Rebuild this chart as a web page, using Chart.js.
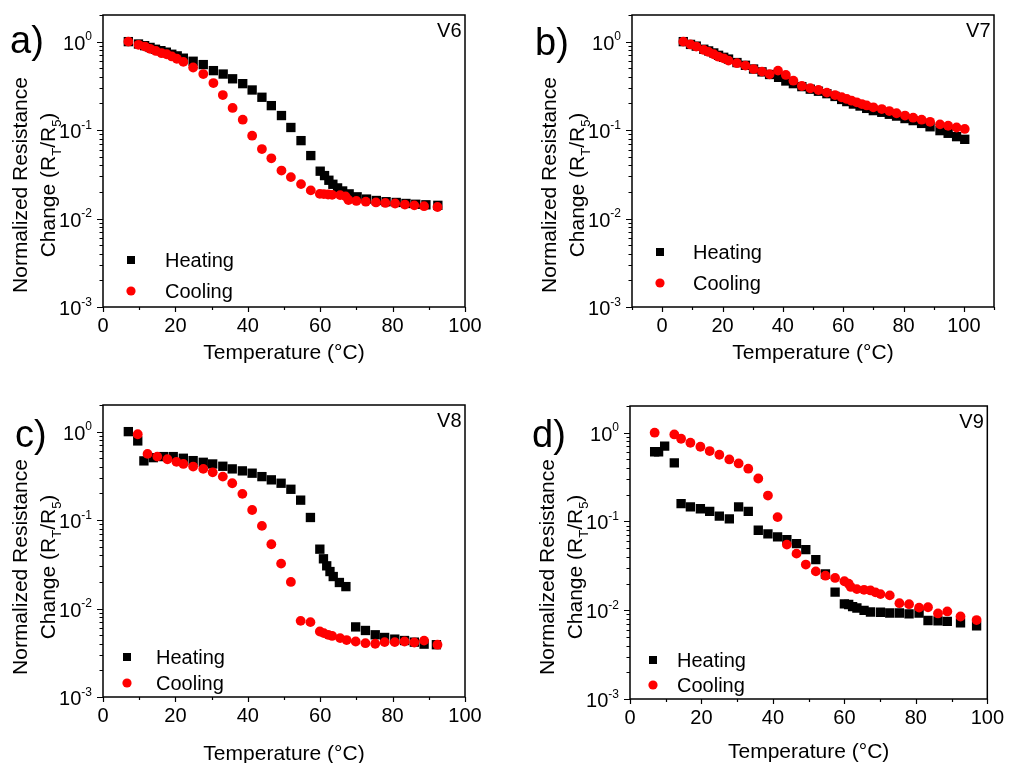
<!DOCTYPE html>
<html>
<head>
<meta charset="utf-8">
<script src="https://cdn.jsdelivr.net/npm/chart.js@4.4.0/dist/chart.umd.min.js"></script>
<style>
  body { margin: 0; background: #fff; }
  canvas { position: absolute; }
</style>
</head>
<body>
<canvas id="chartA" width="505" height="380" style="left:0;top:0"></canvas>
<canvas id="chartB" width="506" height="380" style="left:505px;top:0"></canvas>
<canvas id="chartC" width="505" height="383" style="left:0;top:380px"></canvas>
<canvas id="chartD" width="506" height="383" style="left:505px;top:380px"></canvas>
<script>
// V6
const v6HeatingTemp = [7, 9.8, 11.5, 13, 14.5, 16, 17.5, 19, 20.5, 22.2, 24.9, 27.7, 30.5, 33.2, 35.8, 38.6, 41.2, 43.9, 46.5, 49.3, 51.9, 54.7, 57.4, 60, 61.2, 62.4, 63.5, 64.8, 66.2, 68, 70.2, 72.8, 75.5, 78.2, 81, 83.7, 86.4, 89.2, 92.5];
const v6HeatingRes = [1.0, 0.94, 0.90, 0.86, 0.82, 0.79, 0.76, 0.72, 0.69, 0.65, 0.60, 0.55, 0.47, 0.43, 0.38, 0.335, 0.284, 0.235, 0.189, 0.146, 0.107, 0.076, 0.0515, 0.0343, 0.0306, 0.0271, 0.0244, 0.0222, 0.0205, 0.019, 0.0176, 0.0166, 0.016, 0.0155, 0.0152, 0.0148, 0.0145, 0.0143, 0.0141];
const v6CoolingTemp = [7, 9.8, 11.6, 13, 14.6, 16.2, 17.6, 19, 20.4, 22.2, 24.9, 27.7, 30.5, 33.1, 35.8, 38.6, 41.2, 43.9, 46.5, 49.3, 51.9, 54.7, 57.4, 59.9, 61, 62.2, 63.3, 65.5, 67, 67.8, 70, 72.6, 75.4, 78, 80.7, 83.4, 86, 88.7, 92.4];
const v6CoolingRes = [1.0, 0.92, 0.88, 0.83, 0.785, 0.74, 0.72, 0.68, 0.64, 0.59, 0.51, 0.43, 0.34, 0.249, 0.178, 0.131, 0.0864, 0.061, 0.048, 0.0349, 0.0294, 0.0245, 0.0208, 0.019, 0.0189, 0.0187, 0.0185, 0.0184, 0.0178, 0.0162, 0.0158, 0.0155, 0.0152, 0.015, 0.0148, 0.0144, 0.0141, 0.0138, 0.0135];

// V7
const v7HeatingTemp = [7, 9.4, 11.3, 13.8, 15.4, 17.1, 18.7, 20.4, 22, 24.8, 27.6, 30.3, 33.1, 35.6, 38.6, 41, 43.5, 46.3, 49.1, 51.8, 54.6, 57.3, 59.5, 61.2, 63.4, 65.6, 67.8, 70, 72.8, 75.3, 77.7, 80.5, 83.2, 86, 88.8, 92.1, 94.8, 97.6, 100.3];
const v7HeatingRes = [1.0, 0.93, 0.89, 0.82, 0.785, 0.745, 0.70, 0.665, 0.635, 0.58, 0.54, 0.49, 0.455, 0.425, 0.395, 0.359, 0.335, 0.31, 0.29, 0.275, 0.258, 0.24, 0.222, 0.21, 0.197, 0.187, 0.176, 0.166, 0.159, 0.151, 0.144, 0.135, 0.128, 0.119, 0.109, 0.0986, 0.092, 0.0843, 0.0786];
const v7CoolingTemp = [7, 9.4, 11.3, 13.8, 15.4, 17.1, 18.7, 20.4, 22, 24.8, 27.6, 30.3, 33.1, 35.6, 38.4, 41, 43.5, 46.3, 49.1, 51.8, 54.6, 57.3, 59.5, 61.2, 62.8, 64.5, 66.2, 67.8, 70, 72.8, 75.3, 77.7, 80.5, 83.2, 86, 88.8, 92.1, 94.8, 97.6, 100.3];
const v7CoolingRes = [1.0, 0.93, 0.88, 0.805, 0.764, 0.72, 0.676, 0.648, 0.61, 0.57, 0.535, 0.49, 0.458, 0.428, 0.47, 0.42, 0.362, 0.315, 0.297, 0.284, 0.265, 0.249, 0.235, 0.225, 0.215, 0.206, 0.197, 0.19, 0.181, 0.173, 0.164, 0.155, 0.146, 0.138, 0.131, 0.124, 0.116, 0.112, 0.107, 0.103];

// V8
const v8HeatingTemp = [7, 9.6, 11.3, 13.9, 16.7, 19.4, 22.2, 24.9, 27.7, 30.3, 33.1, 35.7, 38.5, 41.2, 43.9, 46.5, 49.2, 51.9, 54.6, 57.3, 59.9, 60.9, 61.8, 62.7, 63.6, 65.3, 67.1, 69.8, 72.5, 75.2, 77.8, 80.6, 83.3, 86, 88.7, 92.1];
const v8HeatingRes = [1.0, 0.785, 0.467, 0.508, 0.522, 0.522, 0.50, 0.47, 0.45, 0.431, 0.406, 0.379, 0.36, 0.339, 0.31, 0.285, 0.261, 0.223, 0.168, 0.107, 0.0469, 0.0365, 0.0304, 0.0262, 0.023, 0.0197, 0.0177, 0.0062, 0.00565, 0.00505, 0.00471, 0.00451, 0.00435, 0.00417, 0.00396, 0.0039];
const v8CoolingTemp = [9.6, 12.3, 15, 17.8, 20.3, 22.2, 24.9, 27.7, 30.3, 33.1, 35.7, 38.5, 41.2, 43.9, 46.5, 49.2, 51.9, 54.6, 57.3, 59.9, 61, 62.2, 63.3, 65.5, 67.3, 69.8, 72.5, 75.2, 77.8, 80.6, 83.3, 86, 88.7, 92.4];
const v8CoolingRes = [0.934, 0.56, 0.522, 0.487, 0.455, 0.431, 0.403, 0.379, 0.347, 0.31, 0.261, 0.198, 0.13, 0.086, 0.0533, 0.0322, 0.02, 0.00726, 0.00702, 0.0055, 0.00527, 0.00505, 0.0049, 0.00463, 0.0044, 0.00424, 0.00406, 0.004, 0.00417, 0.00417, 0.00424, 0.00413, 0.00434, 0.0039];

// V9
const v9HeatingTemp = [6.9, 8, 9.7, 12.4, 14.3, 16.9, 19.7, 22.3, 25, 27.8, 30.4, 33.1, 35.9, 38.6, 41.3, 43.9, 46.6, 49.2, 52, 54.7, 57.4, 60, 61.2, 62.3, 63.5, 65.5, 67.3, 70.1, 72.7, 75.4, 78.1, 80.9, 83.4, 86.2, 88.8, 92.5, 97];
const v9HeatingRes = [0.61, 0.61, 0.706, 0.458, 0.159, 0.146, 0.139, 0.13, 0.115, 0.107, 0.146, 0.13, 0.0796, 0.0725, 0.067, 0.0625, 0.0563, 0.0482, 0.0372, 0.0256, 0.016, 0.0118, 0.0116, 0.011, 0.0106, 0.00996, 0.00955, 0.0095, 0.0093, 0.0093, 0.0091, 0.0093, 0.00767, 0.0076, 0.00748, 0.0072, 0.00668];
const v9CoolingTemp = [6.9, 12.4, 14.3, 16.9, 19.7, 22.3, 25, 27.8, 30.4, 33.1, 35.9, 38.6, 41.3, 43.9, 46.6, 49.2, 52, 54.7, 57.4, 60, 61.2, 61.8, 63.5, 65.5, 67.3, 68.7, 70.1, 72.7, 75.4, 78.1, 80.9, 83.4, 86.2, 88.8, 92.5, 97];
const v9CoolingRes = [1.0, 0.957, 0.855, 0.771, 0.695, 0.621, 0.565, 0.5, 0.451, 0.393, 0.305, 0.196, 0.112, 0.0549, 0.0434, 0.0327, 0.0274, 0.0245, 0.0231, 0.0212, 0.0199, 0.0183, 0.0173, 0.017, 0.0167, 0.0159, 0.0152, 0.0147, 0.012, 0.0117, 0.0107, 0.0108, 0.0092, 0.0097, 0.0085, 0.00775];

// ticks and labels
const xTicks = [0, 20, 40, 60, 80, 100];
const yDecades = [0.001, 0.01, 0.1, 1];
const yExponents = ['-3', '-2', '-1', '0'];
const seriesNames = ['Heating', 'Cooling'];
const xTitle = 'Temperature (°C)';
const yTitleLine1 = 'Normalized Resistance';
const yTitleLine2 = [['Change (R', 0], ['T', 1], ['/R', 0], ['5', 1], [')', 0]];

const FONT = '"Liberation Sans", Arial, sans-serif';
Chart.defaults.font.family = FONT;
Chart.defaults.color = '#000';

function pts(temps, res) {
  return temps.map((t, i) => ({ x: t, y: res[i] }));
}

function drawRich(ctx, parts, baseY) {
  let total = 0;
  parts.forEach(p => {
    ctx.font = (p[1] ? '13px ' : '21px ') + FONT;
    total += ctx.measureText(p[0]).width;
  });
  let x = -total / 2;
  parts.forEach(p => {
    ctx.font = (p[1] ? '13px ' : '21px ') + FONT;
    ctx.fillText(p[0], x, p[1] ? baseY + 6 : baseY);
    x += ctx.measureText(p[0]).width;
  });
}

const panelPlugin = {
  id: 'panel',
  afterDraw(chart, args, o) {
    const ctx = chart.ctx, a = chart.chartArea;
    const xs = chart.scales.x, ys = chart.scales.y;
    ctx.save();
    ctx.strokeStyle = '#000';
    ctx.fillStyle = '#000';

    // frame
    ctx.lineWidth = 1.5;
    ctx.strokeRect(a.left, a.top, a.right - a.left, a.bottom - a.top);

    // tick marks
    ctx.lineWidth = 1.2;
    ctx.beginPath();
    for (let v = Math.ceil(xs.min / 10) * 10; v <= xs.max; v += 10) {
      const px = Math.round(xs.getPixelForValue(v)) + 0.5;
      ctx.moveTo(px, a.bottom);
      ctx.lineTo(px, a.bottom + (v % 20 === 0 ? 5 : 3));
    }
    yDecades.forEach(d => {
      for (let k = 1; k <= 9; k++) {
        const v = k * d;
        if (v > ys.max) break;
        const py = Math.round(ys.getPixelForValue(v)) + 0.5;
        ctx.moveTo(a.left, py);
        ctx.lineTo(a.left - (k === 1 ? 6 : 3.5), py);
      }
    });
    ctx.stroke();

    // y tick labels 10^n
    ctx.textAlign = 'left';
    ctx.textBaseline = 'alphabetic';
    yDecades.forEach((d, i) => {
      const py = ys.getPixelForValue(d);
      ctx.font = '20px ' + FONT;
      const w10 = ctx.measureText('10').width;
      ctx.font = '12px ' + FONT;
      const we = ctx.measureText(yExponents[i]).width;
      const x0 = a.left - 11 - we - w10;
      ctx.font = '20px ' + FONT;
      ctx.fillText('10', x0, py + 8);
      ctx.font = '12px ' + FONT;
      ctx.fillText(yExponents[i], x0 + w10, py - 1.5);
    });

    // axis titles
    ctx.font = '21px ' + FONT;
    ctx.textAlign = 'center';
    ctx.fillText(xTitle, (a.left + a.right) / 2, o.xTitleY + 7.5);
    ctx.save();
    ctx.translate(a.left - 84, o.yTitleY);
    ctx.rotate(-Math.PI / 2);
    ctx.fillText(yTitleLine1, 0, 7.5);
    ctx.restore();
    ctx.save();
    ctx.translate(a.left - 56, o.yTitleY);
    ctx.rotate(-Math.PI / 2);
    ctx.textAlign = 'left';
    drawRich(ctx, yTitleLine2, 7.5);
    ctx.restore();

    // panel letter and sample name
    ctx.textAlign = 'left';
    ctx.font = '38px ' + FONT;
    ctx.fillText(o.letter, o.letterX, o.letterY);
    ctx.font = '20px ' + FONT;
    ctx.textAlign = 'right';
    ctx.fillText(o.sample, a.right - 3.5, a.top + 22);

    // legend
    ctx.textAlign = 'left';
    ctx.fillStyle = '#000';
    ctx.fillRect(o.legendX - 4, o.legendY[0] - 4, 8, 8);
    ctx.fillStyle = '#ff0000';
    ctx.beginPath();
    ctx.arc(o.legendX, o.legendY[1], 4.6, 0, Math.PI * 2);
    ctx.fill();
    ctx.fillStyle = '#000';
    ctx.font = '20px ' + FONT;
    ctx.fillText(seriesNames[0], o.legendTextX, o.legendY[0] + 7);
    ctx.fillText(seriesNames[1], o.legendTextX, o.legendY[1] + 7);
    ctx.restore();
  }
};

function makeChart(cfg, heat, cool) {
  return new Chart(document.getElementById(cfg.id), {
    type: 'scatter',
    data: {
      datasets: [
        { label: seriesNames[0], data: heat, order: 2, pointStyle: 'rect', pointRadius: 6.6, pointHoverRadius: 6.6, backgroundColor: '#000', borderWidth: 0 },
        { label: seriesNames[1], data: cool, order: 1, pointStyle: 'circle', pointRadius: 4.9, pointHoverRadius: 4.9, backgroundColor: '#ff0000', borderWidth: 0 }
      ]
    },
    options: {
      responsive: false,
      animation: false,
      events: [],
      layout: { padding: { left: 0, top: cfg.top, right: cfg.w - cfg.right, bottom: 0 } },
      plugins: { legend: { display: false }, tooltip: { enabled: false }, panel: cfg },
      scales: {
        x: {
          type: 'linear', min: cfg.xMin, max: cfg.xMax,
          grid: { display: false, drawTicks: false }, border: { display: false },
          afterBuildTicks: s => { s.ticks = xTicks.map(v => ({ value: v })); },
          afterFit: s => { s.height = cfg.h - cfg.bottom; },
          ticks: { font: { size: 20 }, color: '#000', padding: 7, maxRotation: 0, autoSkip: false }
        },
        y: {
          type: 'logarithmic', min: 0.001, max: 2,
          grid: { display: false, drawTicks: false }, border: { display: false },
          ticks: { display: false },
          afterFit: s => { s.width = cfg.left; }
        }
      }
    },
    plugins: [panelPlugin]
  });
}

makeChart({ id: 'chartA', w: 505, h: 380, left: 103, right: 465, top: 15, bottom: 307, xMin: 0, xMax: 100,
  letter: 'a)', letterX: 10, letterY: 53, sample: 'V6', legendX: 131, legendY: [260, 291], legendTextX: 165, xTitleY: 351, yTitleY: 185 },
  pts(v6HeatingTemp, v6HeatingRes), pts(v6CoolingTemp, v6CoolingRes));

makeChart({ id: 'chartB', w: 506, h: 380, left: 127, right: 489, top: 15, bottom: 307, xMin: -10, xMax: 110,
  letter: 'b)', letterX: 30, letterY: 55, sample: 'V7', legendX: 155, legendY: [252, 283], legendTextX: 188, xTitleY: 351, yTitleY: 185 },
  pts(v7HeatingTemp, v7HeatingRes), pts(v7CoolingTemp, v7CoolingRes));

makeChart({ id: 'chartC', w: 505, h: 383, left: 103, right: 465, top: 25, bottom: 317, xMin: 0, xMax: 100,
  letter: 'c)', letterX: 15, letterY: 67, sample: 'V8', legendX: 127, legendY: [277, 303], legendTextX: 156, xTitleY: 372, yTitleY: 187 },
  pts(v8HeatingTemp, v8HeatingRes), pts(v8CoolingTemp, v8CoolingRes));

makeChart({ id: 'chartD', w: 506, h: 383, left: 125, right: 487, top: 26, bottom: 319, xMin: 0, xMax: 100,
  letter: 'd)', letterX: 27, letterY: 67, sample: 'V9', legendX: 148, legendY: [280, 305], legendTextX: 172, xTitleY: 370, yTitleY: 187 },
  pts(v9HeatingTemp, v9HeatingRes), pts(v9CoolingTemp, v9CoolingRes));
</script>
</body>
</html>
